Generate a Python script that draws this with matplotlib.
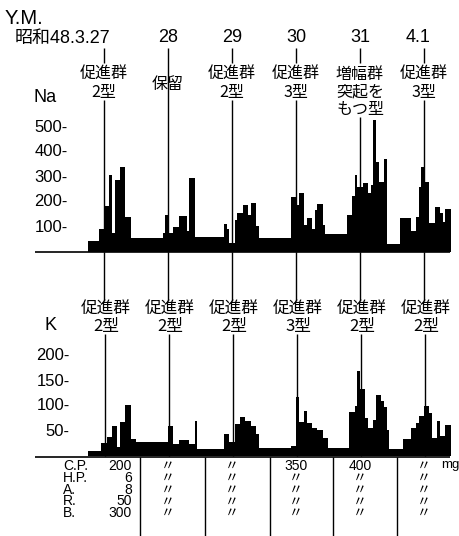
import numpy as np
import matplotlib
matplotlib.use("Agg")
import matplotlib.pyplot as plt

plt.rcParams['font.family'] = ['Noto Sans CJK JP', 'DejaVu Sans']
NUM_FONT = ['Liberation Sans', 'Noto Sans CJK JP', 'DejaVu Sans']

# dates and the pattern read for each day
date_labels = ["昭和48.3.27", "28", "29", "30", "31", "4.1"]
na_types = ["促進群\n2型", "保留", "促進群\n2型", "促進群\n3型", "増幅群\n突起を\nもつ型", "促進群\n3型"]
k_types = ["促進群\n2型", "促進群\n2型", "促進群\n2型", "促進群\n3型", "促進群\n2型", "促進群\n2型"]
na_ticks = [100, 200, 300, 400, 500]
k_ticks = [50, 100, 150, 200]

# hourly excretion, first value is 6 h before 3.27 0:00
na_pre = [45, 45, 45, 45, 92, 92]
na_d27 = [185, 185, 308, 75, 290, 290, 340, 340, 140, 140, 57, 57,
          57, 57, 57, 57, 57, 57, 57, 57, 57, 57, 77, 148]
na_d28 = [77, 77, 100, 100, 144, 144, 144, 85, 296, 296, 60, 60,
          60, 60, 60, 60, 60, 60, 60, 60, 60, 112, 92, 38]
na_d29 = [38, 128, 157, 157, 188, 188, 148, 197, 197, 104, 56, 56,
          56, 56, 56, 56, 56, 56, 56, 56, 56, 56, 221, 221]
na_d30 = [188, 237, 237, 108, 136, 136, 92, 168, 192, 192, 110, 72,
          72, 72, 72, 72, 72, 72, 72, 148, 148, 224, 308, 261]
na_d31 = [261, 275, 275, 236, 268, 540, 361, 281, 281, 372, 32, 32,
          32, 32, 32, 136, 136, 136, 136, 85, 85, 140, 261, 341]
na_d41 = [281, 281, 116, 116, 180, 180, 157, 120, 174, 174]

k_pre = [10, 10, 10, 10, 10, 26]
k_d27 = [26, 38, 38, 60, 60, 18, 69, 69, 102, 102, 34, 34,
         29, 29, 29, 29, 29, 29, 29, 29, 29, 29, 29, 29]
k_d28 = [60, 60, 24, 24, 33, 33, 33, 33, 24, 24, 71, 14,
         14, 14, 14, 14, 14, 14, 14, 14, 14, 44, 44, 28]
k_d29 = [28, 64, 64, 78, 78, 71, 71, 60, 60, 44, 16, 16,
         16, 16, 16, 16, 16, 16, 16, 16, 16, 16, 20, 20]
k_d30 = [118, 68, 68, 90, 66, 66, 56, 56, 52, 52, 36, 36,
         16, 16, 16, 16, 16, 16, 16, 16, 88, 88, 100, 170]
k_d31 = [134, 134, 76, 56, 56, 72, 122, 122, 110, 98, 52, 14,
         14, 14, 14, 14, 34, 34, 34, 56, 56, 66, 80, 80]
k_d41 = [100, 100, 86, 36, 36, 70, 40, 40, 62, 62]

drugs = ["C.P.", "H.P.", "A.", "R.", "B."]
dose_first = [200, 6, 8, 50, 300]
cp_later = ["〃", "〃", "350", "400", "〃"]

na = na_pre + na_d27 + na_d28 + na_d29 + na_d30 + na_d31 + na_d41
k = k_pre + k_d27 + k_d28 + k_d29 + k_d30 + k_d31 + k_d41
hours = np.arange(-len(na_pre), len(na) - len(na_pre))
day_h = np.arange(len(date_labels)) * 24

W, H = 460, 536
XLIM = (-39, 133.5)

fig = plt.figure(figsize=(W / 100, H / 100), dpi=100)

# Na panel: zero at y=252 px
ax_na = fig.add_axes([0, 1 - 252 / H, 1, 132 / H])
ax_na.bar(hours, na, width=1.0, align='edge', color='black', linewidth=0)
ax_na.set_xlim(*XLIM)
ax_na.set_ylim(0, 528)
ax_na.axis('off')
for v in na_ticks:
    ax_na.text(-13.5, v, f"{v}-", ha='right', va='center', fontsize=12, family=NUM_FONT)

# K panel: zero at y=456 px
ax_k = fig.add_axes([0, 1 - 456 / H, 1, 110 / H])
ax_k.bar(hours, k, width=1.0, align='edge', color='black', linewidth=0)
ax_k.set_xlim(*XLIM)
ax_k.set_ylim(0, 220)
ax_k.axis('off')
for v in k_ticks:
    ax_k.text(-12.8, v, f"{v}-", ha='right', va='center', fontsize=12, family=NUM_FONT)

# overlay: x in hours, y in pixels from the top
ov = fig.add_axes([0, 0, 1, 1])
ov.set_xlim(*XLIM)
ov.set_ylim(H, 0)
ov.axis('off')

ov.text(-37.1, 19, "Y.M.", ha='left', va='center', fontsize=14.5, family=NUM_FONT)
for i, lab in enumerate(date_labels):
    if len(lab) == 2:
        ov.text(day_h[i], 38, lab, ha='center', va='center', fontsize=13, family=NUM_FONT)
    else:
        ov.text(day_h[i] + 2.3, 38, lab, ha='right', va='center', fontsize=13, family=NUM_FONT)

ov.text(-22, 97, "Na", ha='center', va='center', fontsize=13, family=NUM_FONT)
ov.text(-20, 325, "K", ha='center', va='center', fontsize=13, family=NUM_FONT)

for i, x in enumerate(day_h):
    nlines = na_types[i].count("\n") + 1
    if nlines == 1:
        ov.text(x, 84, na_types[i], ha='center', va='center', fontsize=11.5)
        ov.vlines(x, 48, 252, color='black', lw=1.0)
    else:
        ov.text(x, 66, na_types[i], ha='center', va='top', fontsize=11.5, linespacing=1.05)
        ov.vlines(x, 48, 63, color='black', lw=1.0)
        ov.vlines(x, 66 + 17 * nlines, 252, color='black', lw=1.0)
    ov.text(x + 0.8, 301, k_types[i], ha='center', va='top', fontsize=12, linespacing=1.0)
    ov.vlines(x, 252, 300, color='black', lw=1.0)
    ov.vlines(x + 0.5, 334, 456, color='black', lw=1.0)

# baselines
ov.hlines(252, -25.9, 129.7, color='black', lw=1.2)
ov.hlines(457, -25.9, 129.7, color='black', lw=1.2)

# dose table, one text block per column
sep_h = [13.5, 37.9, 62.3, 85.9, 109.9]
ov.vlines(sep_h, 457, H, color='black', lw=1.0)
tbl = dict(va='top', fontsize=10, linespacing=0.8, family=NUM_FONT)
ov.text(-15.4, 459, "\n".join(drugs), ha='left', **tbl)
ov.text(10.5, 459, "\n".join(str(d) for d in dose_first), ha='right', **tbl)
for c in range(1, len(date_labels)):
    col = [cp_later[c - 1]] + ["〃"] * (len(drugs) - 1)
    ov.text(day_h[c], 459, "\n".join(col), ha='center', **tbl)
ov.text(126.4, 459, "mg", ha='left', va='top', fontsize=9.5, family=NUM_FONT)

fig.savefig("out.png", dpi=100)
